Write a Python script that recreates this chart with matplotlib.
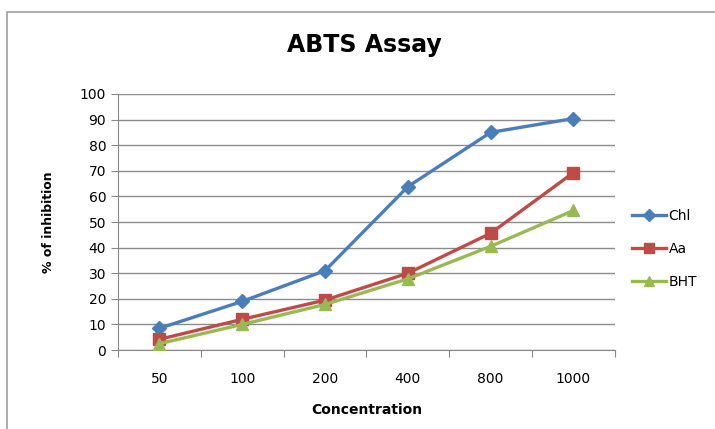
import matplotlib
matplotlib.use("Agg")
import matplotlib.pyplot as plt
from matplotlib.patches import Rectangle
import numpy as np

categories = ["50", "100", "200", "400", "800", "1000"]
chl = [8.5, 19, 31, 63.8, 85, 90.4]
aa = [4.2, 12, 19.5, 30, 45.6, 69.3]
bht = [2.5, 10, 17.8, 27.8, 40.5, 54.5]

series = [("Chl", chl, "#4A7EBB", "D", 7),
          ("Aa", aa, "#BE4B48", "s", 8),
          ("BHT", bht, "#98B954", "^", 9)]

fig = plt.figure(figsize=(7.15, 4.29), dpi=100)
ax = fig.add_axes([0.165, 0.184, 0.695, 0.597])

# chart border (left and top visible)
fig.patches.append(Rectangle((7 / 715, -0.05), 1.1, (429 - 12) / 429 + 0.05,
                             transform=fig.transFigure, fill=False,
                             edgecolor="#a0a0a0", linewidth=1.2))

x = np.arange(len(categories))
for name, vals, col, mk, ms in series:
    ax.plot(x, vals, color=col, linewidth=2.4, marker=mk, markersize=ms,
            markerfacecolor=col, markeredgecolor=col, label=name, zorder=3)

ax.set_ylim(0, 100)
ax.set_yticks(np.arange(0, 101, 10))
ax.set_xlim(-0.5, len(categories) - 0.5)
ax.set_xticks(np.arange(-0.5, len(categories), 1))
ax.set_xticklabels([])
ax.set_xticks(x, minor=True)
ax.set_xticklabels(categories, minor=True)
ax.tick_params(axis="x", which="minor", length=0, pad=16, labelsize=10)
ax.tick_params(axis="x", which="major", length=5, color="#888888")
ax.tick_params(axis="y", length=5, color="#888888", labelsize=10)

ax.grid(axis="y", color="#8c8c8c", linewidth=1)
ax.set_axisbelow(True)
for s in ["top", "right"]:
    ax.spines[s].set_visible(False)
ax.spines["left"].set_color("#888888")
ax.spines["bottom"].set_color("#888888")

ax.set_xlabel("Concentration", fontsize=10, fontweight="bold", labelpad=12)
ax.set_ylabel("% of inhibition", fontsize=9, fontweight="bold", labelpad=18)

fig.text(0.51, 0.895, "ABTS Assay", ha="center", va="center",
         fontsize=17, fontweight="bold")

leg = ax.legend(loc="center left", bbox_to_anchor=(1.01, 0.395), frameon=False,
                fontsize=10, handlelength=2.4, labelspacing=1.35,
                handletextpad=0.2, markerscale=0.85)

fig.savefig("out.png", dpi=100)
